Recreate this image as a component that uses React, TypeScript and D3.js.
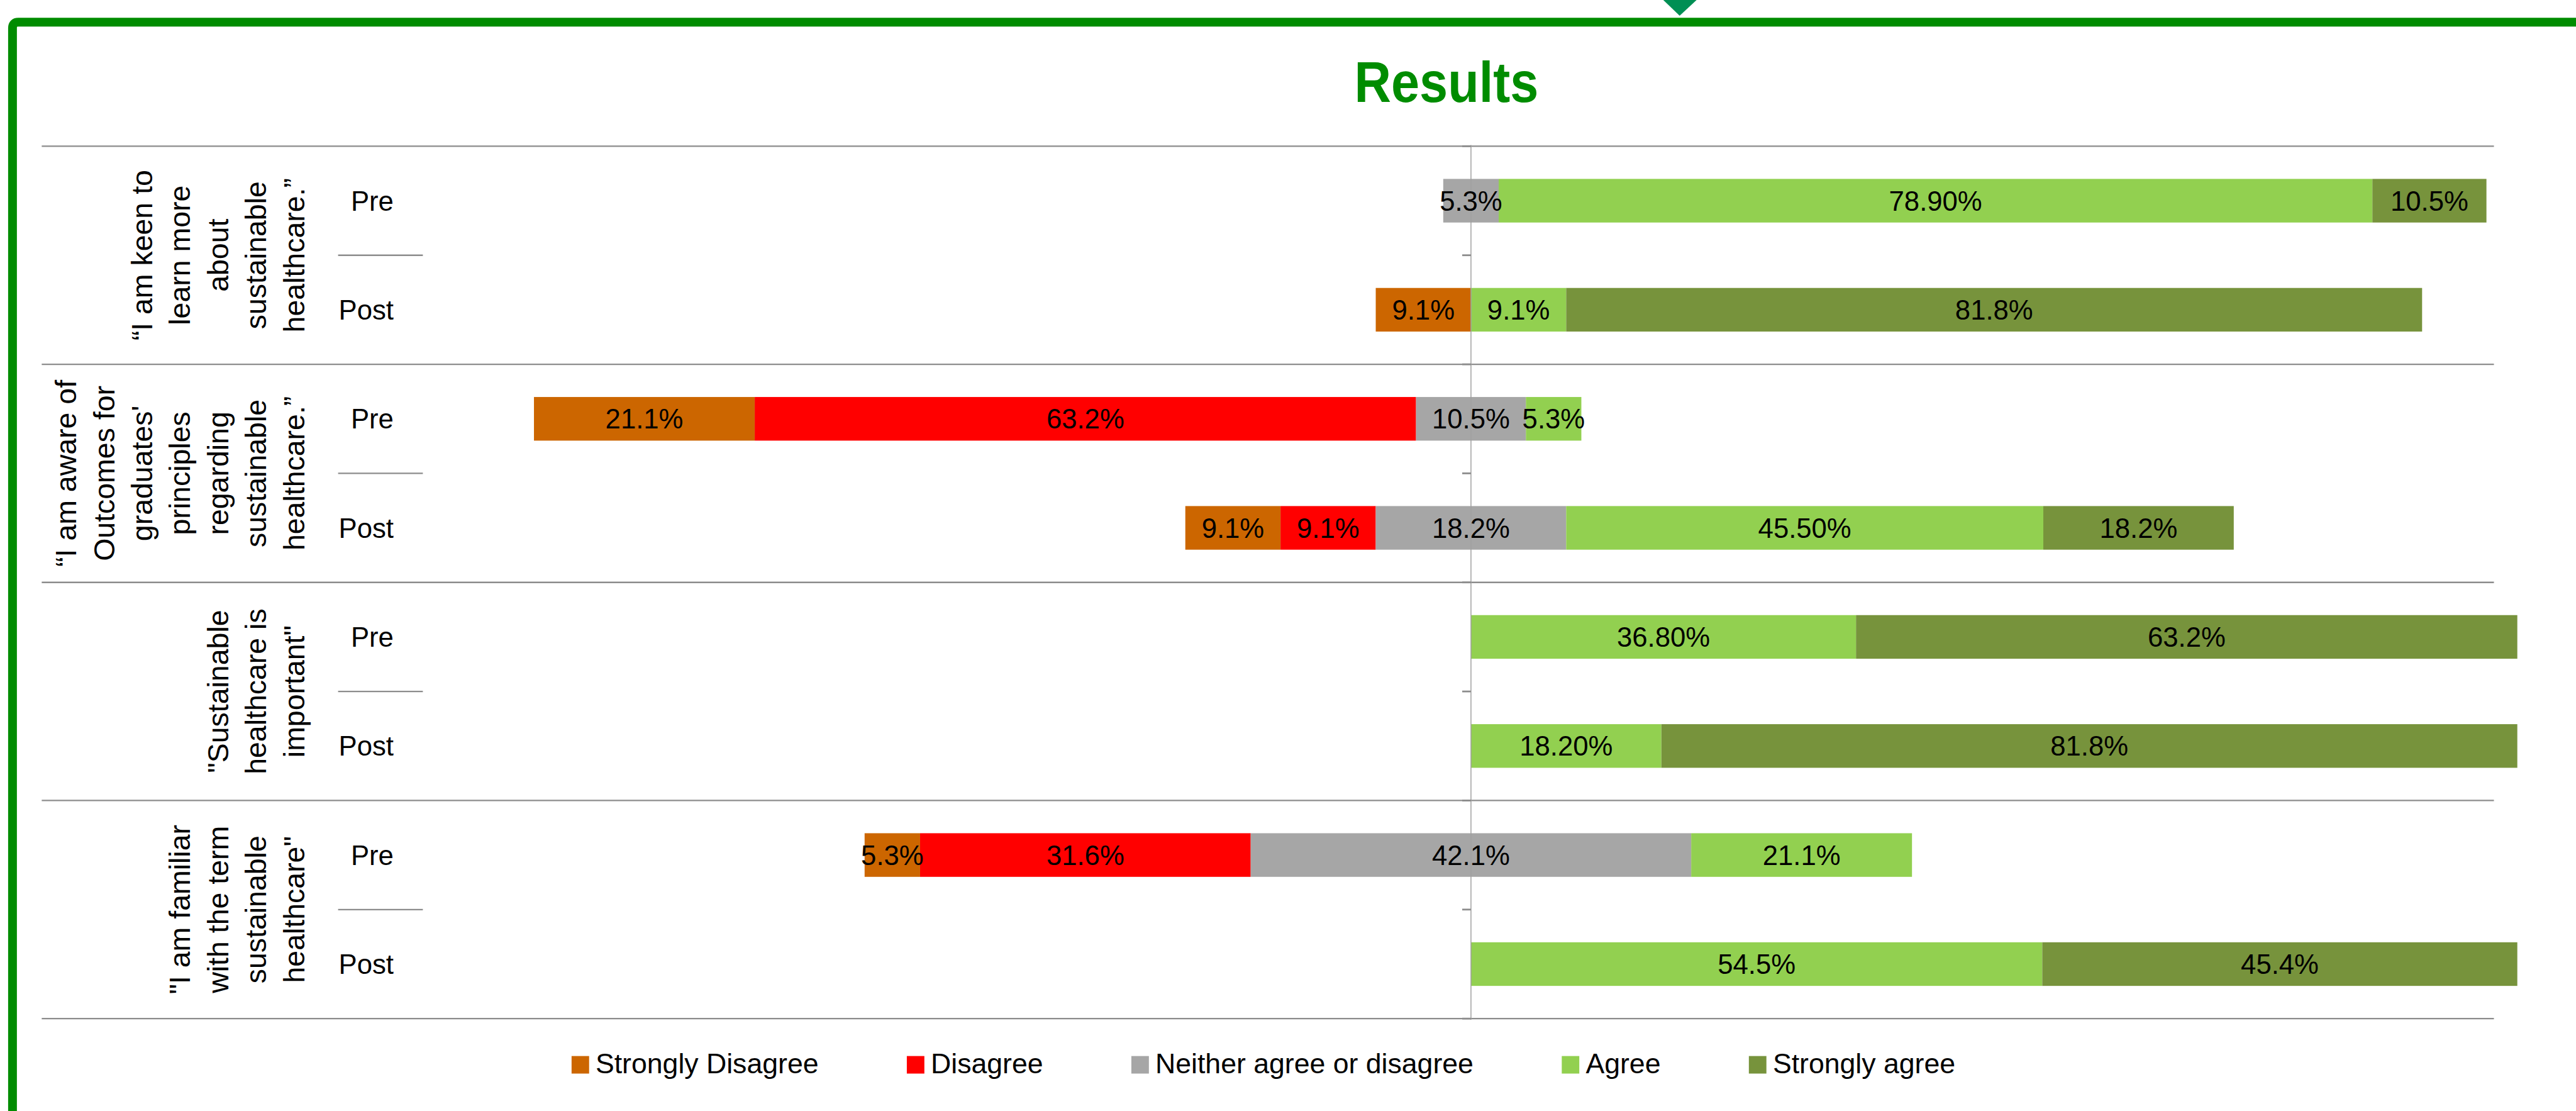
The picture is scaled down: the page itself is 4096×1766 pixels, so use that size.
import React, { useMemo } from "react";
import * as d3 from "d3";

// ---------- data ----------
const chartTitle = "Results";
const questions: string[][] = [
  ["“I am keen to", "learn more", "about", "sustainable", "healthcare.”"],
  ["“I am aware of", "Outcomes for", "graduates'", "principles", "regarding", "sustainable", "healthcare.”"],
  ["\"Sustainable", "healthcare is", "important\""],
  ["\"I am familiar", "with the term", "sustainable", "healthcare\""],
];
const phases = ["Pre", "Post"];
const seriesNames = ["Strongly Disagree", "Disagree", "Neither agree or disagree", "Agree", "Strongly agree"];
const seriesColors = ["#CC6600", "#FF0000", "#A6A6A6", "#92D050", "#77933C"];

// rows: Q1 Pre, Q1 Post, Q2 Pre, Q2 Post, Q3 Pre, Q3 Post, Q4 Pre, Q4 Post
const stronglyDisagree = [0, 9.1, 21.1, 9.1, 0, 0, 5.3, 0];
const disagree = [0, 0, 63.2, 9.1, 0, 0, 31.6, 0];
const neutral = [5.3, 0, 10.5, 18.2, 0, 0, 42.1, 0];
const agree = [83.5, 9.1, 5.3, 45.6, 36.8, 18.2, 21.1, 54.6];
const stronglyAgree = [10.9, 81.8, 0, 18.2, 63.2, 81.8, 0, 45.4];

const sdLabels = ["", "9.1%", "21.1%", "9.1%", "", "", "5.3%", ""];
const dLabels = ["", "", "63.2%", "9.1%", "", "", "31.6%", ""];
const nLabels = ["5.3%", "", "10.5%", "18.2%", "", "", "42.1%", ""];
const aLabels = ["78.90%", "9.1%", "5.3%", "45.50%", "36.80%", "18.20%", "21.1%", "54.5%"];
const saLabels = ["10.5%", "81.8%", "", "18.2%", "63.2%", "81.8%", "", "45.4%"];

const xDomain = [-100, 100];

// ---------- layout (reference pixel units) ----------
const W = 4406;
const H = 1900;
const FONT = "'Liberation Sans', Arial, sans-serif";
const GREEN = "#008C00";
const GRID = "#8C8C8C";

function measure(text: string, size: number, weight = "normal") {
  if (typeof document === "undefined") return text.length * size * 0.5;
  const c = document.createElement("canvas");
  const ctx = c.getContext("2d")!;
  ctx.font = `${weight} ${size}px 'Liberation Sans', Arial, sans-serif`;
  return ctx.measureText(text).width;
}

export default function App() {
  const plotLeft = 726;
  const plotRight = 4306;
  const plotTop = 250;
  const plotBottom = 1742;
  const lineLeft = 71;
  const lineRight = 4266;
  const catColRight = 723;
  const phaseLineLeft = 578;

  const rowIds = d3.range(questions.length * phases.length);
  const x = d3.scaleLinear().domain(xDomain).range([plotLeft, plotRight]);
  const y = d3
    .scaleBand<number>()
    .domain(rowIds)
    .range([plotTop, plotBottom])
    .paddingInner(0.6)
    .paddingOuter(0.3);
  const step = y.step();
  const bw = y.bandwidth();

  const series = [stronglyDisagree, disagree, neutral, agree, stronglyAgree];
  const labels = [sdLabels, dLabels, nLabels, aLabels, saLabels];

  const segments = useMemo(() => {
    const out: { row: number; s: number; x0: number; x1: number; label: string }[] = [];
    rowIds.forEach((r) => {
      let cur = -(stronglyDisagree[r] + disagree[r] + neutral[r] / 2);
      series.forEach((arr, s) => {
        const v = arr[r];
        if (v > 0) out.push({ row: r, s, x0: cur, x1: cur + v, label: labels[s][r] });
        cur += v;
      });
    });
    return out;
  }, []);

  const labelSize = 47;
  const catSize = 50;
  const legendSize = 48;
  const boundaries = d3.range(rowIds.length + 1).map((k) => plotTop + k * step);

  // legend flow layout
  const sw = 30;
  const swGap = 11;
  const itemGap = 151;
  const legendCenter = 2161;
  const widths = seriesNames.map((n) => measure(n, legendSize));
  const total = d3.sum(widths) + seriesNames.length * (sw + swGap) + (seriesNames.length - 1) * itemGap;
  let lx = legendCenter - total / 2;
  const legendItems = seriesNames.map((n, i) => {
    const item = { name: n, color: seriesColors[i], x: lx };
    lx += sw + swGap + widths[i] + itemGap;
    return item;
  });
  const legendBase = 1835;

  return (
    <svg
      width={4096}
      height={1766}
      viewBox={`0 0 ${W} ${H}`}
      style={{ position: "absolute", left: 0, top: 0, display: "block", background: "#fff" }}
      fontFamily={FONT}
    >
      <rect x={0} y={0} width={W} height={H} fill="#fff" />
      {/* frame */}
      <path
        d={`M 21 ${H + 20} L 21 48 Q 21 38 31 38 L ${W + 20} 38`}
        fill="none"
        stroke={GREEN}
        strokeWidth={15}
      />
      <polygon points="2845,0 2902,0 2873,27" fill="#008F54" />
      {/* title */}
      <text
        x={2474}
        y={174}
        textAnchor="middle"
        fontSize={98}
        fontWeight="bold"
        fill={GREEN}
        textLength={315}
        lengthAdjust="spacingAndGlyphs"
      >
        {chartTitle}
      </text>

      {/* category separators */}
      {d3.range(questions.length + 1).map((q) => (
        <line
          key={"sep" + q}
          x1={lineLeft}
          x2={lineRight}
          y1={plotTop + q * 2 * step}
          y2={plotTop + q * 2 * step}
          stroke={GRID}
          strokeWidth={2.5}
        />
      ))}
      {/* Pre/Post separators */}
      {d3.range(questions.length).map((q) => (
        <line
          key={"psep" + q}
          x1={phaseLineLeft}
          x2={catColRight}
          y1={plotTop + (q * 2 + 1) * step}
          y2={plotTop + (q * 2 + 1) * step}
          stroke={GRID}
          strokeWidth={2.5}
        />
      ))}

      {/* bars */}
      {segments.map((sg, i) => (
        <rect
          key={"b" + i}
          x={x(sg.x0)}
          y={y(sg.row)!}
          width={x(sg.x1) - x(sg.x0)}
          height={bw}
          fill={seriesColors[sg.s]}
        />
      ))}

      {/* zero axis + ticks */}
      <line x1={x(0)} x2={x(0)} y1={plotTop - 2} y2={plotBottom + 2} stroke="#A0A0A0" strokeWidth={1.6} />
      {boundaries.map((by, k) => (
        <line key={"t" + k} x1={x(0) - 15} x2={x(0)} y1={by} y2={by} stroke={GRID} strokeWidth={3} />
      ))}

      {/* data labels */}
      {segments
        .filter((sg) => sg.label)
        .map((sg, i) => (
          <text
            key={"l" + i}
            x={(x(sg.x0) + x(sg.x1)) / 2}
            y={y(sg.row)! + bw / 2 + labelSize * 0.355}
            textAnchor="middle"
            fontSize={labelSize}
            fill="#000"
          >
            {sg.label}
          </text>
        ))}

      {/* Pre / Post labels */}
      {rowIds.map((r) => (
        <text
          key={"p" + r}
          x={673}
          y={y(r)! + bw / 2 + labelSize * 0.355}
          textAnchor="end"
          fontSize={labelSize}
          fill="#000"
        >
          {phases[r % 2]}
        </text>
      ))}

      {/* rotated question labels */}
      {questions.map((lines, q) => {
        const cy = plotTop + (q * 2 + 1) * step;
        const n = lines.length;
        return lines.map((ln, i) => (
          <text
            key={"q" + q + "-" + i}
            transform={`translate(${520 - (n - 1 - i) * 65}, ${cy}) rotate(-90)`}
            textAnchor="middle"
            fontSize={catSize}
            fill="#000"
          >
            {ln}
          </text>
        ));
      })}

      {/* legend */}
      {legendItems.map((it, i) => (
        <g key={"lg" + i}>
          <rect x={it.x} y={legendBase - 29} width={sw} height={sw} fill={it.color} />
          <text x={it.x + sw + swGap} y={legendBase} fontSize={legendSize} fill="#000">
            {it.name}
          </text>
        </g>
      ))}
    </svg>
  );
}
